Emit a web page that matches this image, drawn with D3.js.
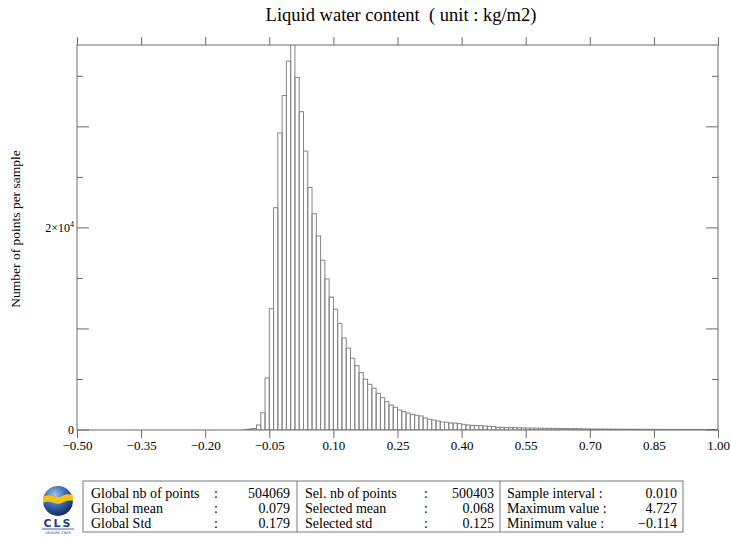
<!DOCTYPE html>
<html>
<head>
<meta charset="utf-8">
<script src="https://cdn.jsdelivr.net/npm/d3@7"></script>
<style>
  html, body { margin: 0; padding: 0; background: #fff; }
  svg { display: block; }
  text { font-family: "Liberation Serif", "DejaVu Serif", serif; fill: #000; white-space: pre; }
  text.logo { font-family: "DejaVu Sans", "Liberation Sans", sans-serif; fill: #1d3f8f; }
</style>
</head>
<body>
<svg id="chart" width="731" height="537"></svg>
<script>
// ---- data ----
const binWidth = 0.01;
const binStarts = d3.range(111).map(i => +(-0.11 + i * 0.01).toFixed(2)); // -0.11 .. 0.99
const binCounts = [
  30, 100, 150, 500, 1700, 5150, 12000, 22000, 29400, 33100, 36500,      // -0.11 .. -0.01
  39800, 34900, 31500, 27600, 24000, 21400, 19200, 16800, 14950, 13150, // 0.00 .. 0.09
  11950, 10550, 9100, 8100, 7100, 6370, 5680, 5020, 4520, 4130,         // 0.10 .. 0.19
  3630, 3200, 2800, 2480, 2250, 1980, 1810, 1680, 1550, 1460,           // 0.20 .. 0.29
  1390, 1190, 1060, 990, 890, 790, 760, 690, 680, 630,                  // 0.30 .. 0.39
  560, 500, 460, 440, 430, 400, 370, 350, 270, 260,                     // 0.40 .. 0.49
  250, 240, 240, 220, 210, 200, 190, 180, 175, 170,                     // 0.50 .. 0.59
  165, 160, 155, 150, 145, 140, 135, 130, 110, 100,                     // 0.60 .. 0.69
  95, 90, 88, 85, 82, 80, 78, 75, 72, 70,                               // 0.70 .. 0.79
  68, 66, 64, 62, 60, 58, 57, 56, 55, 54,                               // 0.80 .. 0.89
  53, 52, 51, 50, 49, 48, 47, 46, 45, 44                                // 0.90 .. 0.99
];
const xTicks = [-0.50, -0.35, -0.20, -0.05, 0.10, 0.25, 0.40, 0.55, 0.70, 0.85, 1.00];
const yMajorTicks = [0, 10000, 20000, 30000];
const yMinorTicks = [5000, 15000, 25000, 35000];
const yLabelTicks = [0, 20000];
const titleText = "Liquid water content  ( unit : kg/m2)";
const yAxisTitle = "Number of points per sample";
const tableCol1Labels = ["Global nb of points", "Global mean", "Global Std"];
const tableCol1Values = ["504069", "0.079", "0.179"];
const tableCol2Labels = ["Sel. nb of points", "Selected mean", "Selected std"];
const tableCol2Values = ["500403", "0.068", "0.125"];
const tableCol3Labels = ["Sample interval :", "Maximum value :", "Minimum value :"];
const tableCol3Values = ["0.010", "4.727", "\u22120.114"];

// ---- layout ----
const L = 77, R = 718, T = 45, B = 430;
const yMax = 38100;
const svg = d3.select("#chart");
const x = d3.scaleLinear().domain([-0.5, 1.0]).range([L, R]);
const y = d3.scaleLinear().domain([0, yMax]).range([B, T]);
const axisColor = "#6a6a6a";

svg.append("defs").append("clipPath").attr("id", "plotclip")
  .append("rect").attr("x", L).attr("y", T).attr("width", R - L).attr("height", B - T);

// bars
const bins = binStarts.map((s, i) => ({ x0: s, x1: s + binWidth, c: binCounts[i] }));
svg.append("g").attr("clip-path", "url(#plotclip)")
  .selectAll("rect").data(bins).join("rect")
  .attr("x", d => x(d.x0))
  .attr("width", d => x(d.x1) - x(d.x0))
  .attr("y", d => y(Math.min(d.c, yMax + 500)))
  .attr("height", d => B - y(Math.min(d.c, yMax + 500)))
  .attr("fill", "none")
  .attr("stroke", "#858585")
  .attr("stroke-width", 1);

// frame
svg.append("rect").attr("x", L).attr("y", T).attr("width", R - L).attr("height", B - T)
  .attr("fill", "none").attr("stroke", axisColor).attr("stroke-width", 1);

// x axes
const fmt = d3.format(".2f");
const xBottom = d3.axisBottom(x).tickValues(xTicks).tickSize(8).tickSizeOuter(0).tickFormat(fmt);
const gxb = svg.append("g").attr("transform", `translate(0,${B})`).call(xBottom);
gxb.select(".domain").remove();
gxb.selectAll("line").attr("stroke", axisColor);
gxb.selectAll("text").attr("font-size", 13).attr("dy", "0.62em").attr("y", 12).attr("fill", "#000");

const xTop = d3.axisTop(x).tickValues(xTicks).tickSize(8).tickSizeOuter(0).tickFormat("");
const gxt = svg.append("g").attr("transform", `translate(0,${T})`).call(xTop);
gxt.select(".domain").remove();
gxt.selectAll("line").attr("stroke", axisColor);

// y ticks, left and right, inward
function yTicksOn(side) {
  const g = svg.append("g");
  const xs = side === "left" ? L : R;
  const dir = side === "left" ? 1 : -1;
  g.selectAll("line.maj").data(yMajorTicks).join("line")
    .attr("x1", xs).attr("x2", xs + dir * 12)
    .attr("y1", d => y(d)).attr("y2", d => y(d))
    .attr("stroke", axisColor);
  g.selectAll("line.min").data(yMinorTicks).join("line")
    .attr("x1", xs).attr("x2", xs + dir * 6)
    .attr("y1", d => y(d)).attr("y2", d => y(d))
    .attr("stroke", axisColor);
}
yTicksOn("left");
yTicksOn("right");

// y labels
const yl = svg.append("g");
yLabelTicks.forEach(v => {
  const t = yl.append("text").attr("x", L - 3).attr("y", y(v) + 4)
    .attr("text-anchor", "end").attr("font-size", 12);
  if (v === 0) {
    t.text("0");
  } else {
    const e = Math.floor(Math.log10(v));
    const m = v / Math.pow(10, e);
    t.append("tspan").text(m + "\u00d710");
    t.append("tspan").attr("font-size", 8).attr("dy", -5).text(e);
  }
});

// titles
svg.append("text").attr("x", 401).attr("y", 21).attr("text-anchor", "middle")
  .attr("font-size", 18.5).text(titleText);
svg.append("text").attr("transform", "translate(20,229) rotate(-90)")
  .attr("text-anchor", "middle").attr("font-size", 13.5).text(yAxisTitle);

// ---- table ----
const tb = svg.append("g");
const tL = 83, tR = 683, tT = 481, tB = 532, d1 = 297, d2 = 500;
tb.append("rect").attr("x", tL).attr("y", tT).attr("width", tR - tL).attr("height", tB - tT)
  .attr("fill", "none").attr("stroke", "#7a7a7a");
[d1, d2].forEach(xx => tb.append("line").attr("x1", xx).attr("x2", xx).attr("y1", tT).attr("y2", tB).attr("stroke", "#7a7a7a"));
const rowY = [497.5, 512.5, 527.5];
const fs = 14;
rowY.forEach((ry, i) => {
  tb.append("text").attr("x", 91).attr("y", ry).attr("font-size", fs).text(tableCol1Labels[i]);
  tb.append("text").attr("x", 214).attr("y", ry).attr("font-size", fs).text(":");
  tb.append("text").attr("x", 290).attr("y", ry).attr("font-size", fs).attr("text-anchor", "end").text(tableCol1Values[i]);
  tb.append("text").attr("x", 305).attr("y", ry).attr("font-size", fs).text(tableCol2Labels[i]);
  tb.append("text").attr("x", 424).attr("y", ry).attr("font-size", fs).text(":");
  tb.append("text").attr("x", 494).attr("y", ry).attr("font-size", fs).attr("text-anchor", "end").text(tableCol2Values[i]);
  tb.append("text").attr("x", 507).attr("y", ry).attr("font-size", fs).text(tableCol3Labels[i]);
  tb.append("text").attr("x", 677).attr("y", ry).attr("font-size", fs).attr("text-anchor", "end").text(tableCol3Values[i]);
});

// ---- logo ----
const lg = svg.append("g");
const grad = svg.select("defs").append("radialGradient").attr("id", "sph")
  .attr("cx", "40%").attr("cy", "30%").attr("r", "75%");
grad.append("stop").attr("offset", "0%").attr("stop-color", "#9fc4ec");
grad.append("stop").attr("offset", "45%").attr("stop-color", "#3f6fb8");
grad.append("stop").attr("offset", "100%").attr("stop-color", "#0e1f5c");
lg.append("circle").attr("cx", 58).attr("cy", 501).attr("r", 15).attr("fill", "url(#sph)");
lg.append("path")
  .attr("d", "M43,497 C50,492 56,500 62,496 C66,494 70,494 73,495 L73,501 C68,500 66,501 62,503 C56,506 50,499 43,503 Z")
  .attr("fill", "#f2c21a");
lg.append("text").attr("class", "logo").attr("x", 58).attr("y", 527).attr("text-anchor", "middle")
  .attr("font-weight", "bold").attr("font-size", 11).attr("letter-spacing", 2).text("CLS");
lg.append("line").attr("x1", 42).attr("x2", 74).attr("y1", 529).attr("y2", 529)
  .attr("stroke", "#1d3f8f").attr("stroke-width", 0.8);
lg.append("text").attr("class", "logo").attr("x", 58).attr("y", 534).attr("text-anchor", "middle")
  .attr("font-size", 3.5).text("GROUPE CNES");
</script>
</body>
</html>
